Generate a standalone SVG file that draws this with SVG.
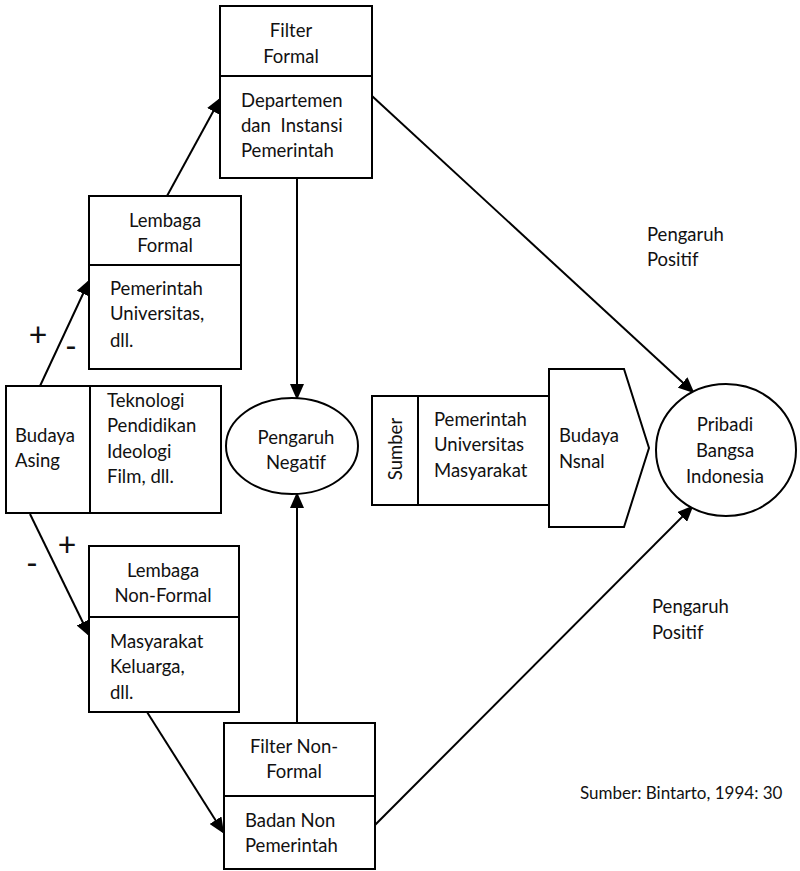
<svg xmlns="http://www.w3.org/2000/svg" width="800" height="871" viewBox="0 0 800 871">
<style>
.b{fill:#fff;stroke:#000;stroke-width:2}
.l{fill:none;stroke:#000;stroke-width:2}
text{font-family:"Lato","Liberation Sans",sans-serif;font-size:18.5px;fill:#111}
.c{text-anchor:middle}
.pm{font-size:32px}
</style>
<defs>
<marker id="ah" markerUnits="userSpaceOnUse" markerWidth="16" markerHeight="14" refX="14" refY="7" orient="auto">
<path d="M0,0 L16,7 L0,14 Z" fill="#000"/>
</marker>
</defs>
<g id="connectors">
<line class="l" x1="40" y1="386" x2="89" y2="281" marker-end="url(#ah)"/>
<line class="l" x1="167" y1="196" x2="220" y2="99" marker-end="url(#ah)"/>
<line class="l" x1="30" y1="514" x2="89" y2="635" marker-end="url(#ah)"/>
<line class="l" x1="147" y1="712" x2="223" y2="832" marker-end="url(#ah)"/>
<line class="l" x1="297" y1="178" x2="297" y2="398" marker-end="url(#ah)"/>
<line class="l" x1="297" y1="723" x2="297" y2="494" marker-end="url(#ah)"/>
<line class="l" x1="372" y1="96" x2="693" y2="392" marker-end="url(#ah)"/>
<line class="l" x1="375" y1="825" x2="692" y2="507" marker-end="url(#ah)"/>
</g>
<g id="filter-formal">
<rect class="b" x="220" y="6" width="152" height="172"/>
<line class="l" x1="220" y1="76" x2="372" y2="76"/>
<text class="c" x="291" y="37">Filter</text>
<text class="c" x="291" y="63">Formal</text>
<text x="241" y="107">Departemen</text>
<text x="241" y="132" word-spacing="5">dan Instansi</text>
<text x="241" y="157">Pemerintah</text>
</g>
<g id="lembaga-formal">
<rect class="b" x="89" y="196" width="152" height="173"/>
<line class="l" x1="89" y1="265" x2="241" y2="265"/>
<text class="c" x="165" y="227">Lembaga</text>
<text class="c" x="165" y="252">Formal</text>
<text x="110" y="295">Pemerintah</text>
<text x="110" y="320">Universitas,</text>
<text x="110" y="347">dll.</text>
</g>
<g id="budaya-asing">
<rect class="b" x="6" y="386" width="215" height="127"/>
<line class="l" x1="90" y1="386" x2="90" y2="513"/>
<text x="15" y="442">Budaya</text>
<text x="15" y="467">Asing</text>
<text x="107" y="407">Teknologi</text>
<text x="107" y="432">Pendidikan</text>
<text x="107" y="458">Ideologi</text>
<text x="107" y="483">Film, dll.</text>
</g>
<g id="signs">
<text class="c pm" x="38" y="346">+</text>
<text class="c pm" x="71" y="358">-</text>
<text class="c pm" x="32" y="575">-</text>
<text class="c pm" x="67" y="556">+</text>
</g>
<g id="lembaga-nonformal">
<rect class="b" x="89" y="546" width="150" height="166"/>
<line class="l" x1="89" y1="617" x2="239" y2="617"/>
<text class="c" x="163" y="577">Lembaga</text>
<text class="c" x="163" y="602">Non-Formal</text>
<text x="110" y="648">Masyarakat</text>
<text x="110" y="673">Keluarga,</text>
<text x="110" y="699">dll.</text>
</g>
<g id="filter-nonformal">
<rect class="b" x="224" y="723" width="151" height="146"/>
<line class="l" x1="224" y1="796" x2="375" y2="796"/>
<text class="c" x="294" y="753">Filter Non-</text>
<text class="c" x="294" y="778">Formal</text>
<text x="245" y="827">Badan Non</text>
<text x="245" y="852">Pemerintah</text>
</g>
<g id="pengaruh-negatif">
<ellipse class="b" cx="292" cy="446" rx="66" ry="48"/>
<text class="c" x="296" y="444">Pengaruh</text>
<text class="c" x="296" y="469">Negatif</text>
</g>
<g id="sumber">
<rect class="b" x="372" y="396" width="177" height="109"/>
<line class="l" x1="418" y1="396" x2="418" y2="505"/>
<text class="c" transform="translate(402,449) rotate(-90)">Sumber</text>
<text x="434" y="426">Pemerintah</text>
<text x="434" y="451">Universitas</text>
<text x="434" y="477">Masyarakat</text>
</g>
<g id="budaya-nasional">
<polygon class="b" points="549,369 624,369 649,448 624,527 549,527"/>
<text x="559" y="442">Budaya</text>
<text x="559" y="468">Nsnal</text>
</g>
<g id="pribadi">
<ellipse class="b" cx="726" cy="450" rx="70" ry="66"/>
<text class="c" x="725" y="431">Pribadi</text>
<text class="c" x="725" y="457">Bangsa</text>
<text class="c" x="725" y="483">Indonesia</text>
</g>
<g id="labels">
<text x="647" y="241">Pengaruh</text>
<text x="647" y="266">Positif</text>
<text x="652" y="613">Pengaruh</text>
<text x="652" y="639">Positif</text>
<text x="580" y="799" style="font-size:17px">Sumber: Bintarto, 1994: 30</text>
</g>
</svg>
